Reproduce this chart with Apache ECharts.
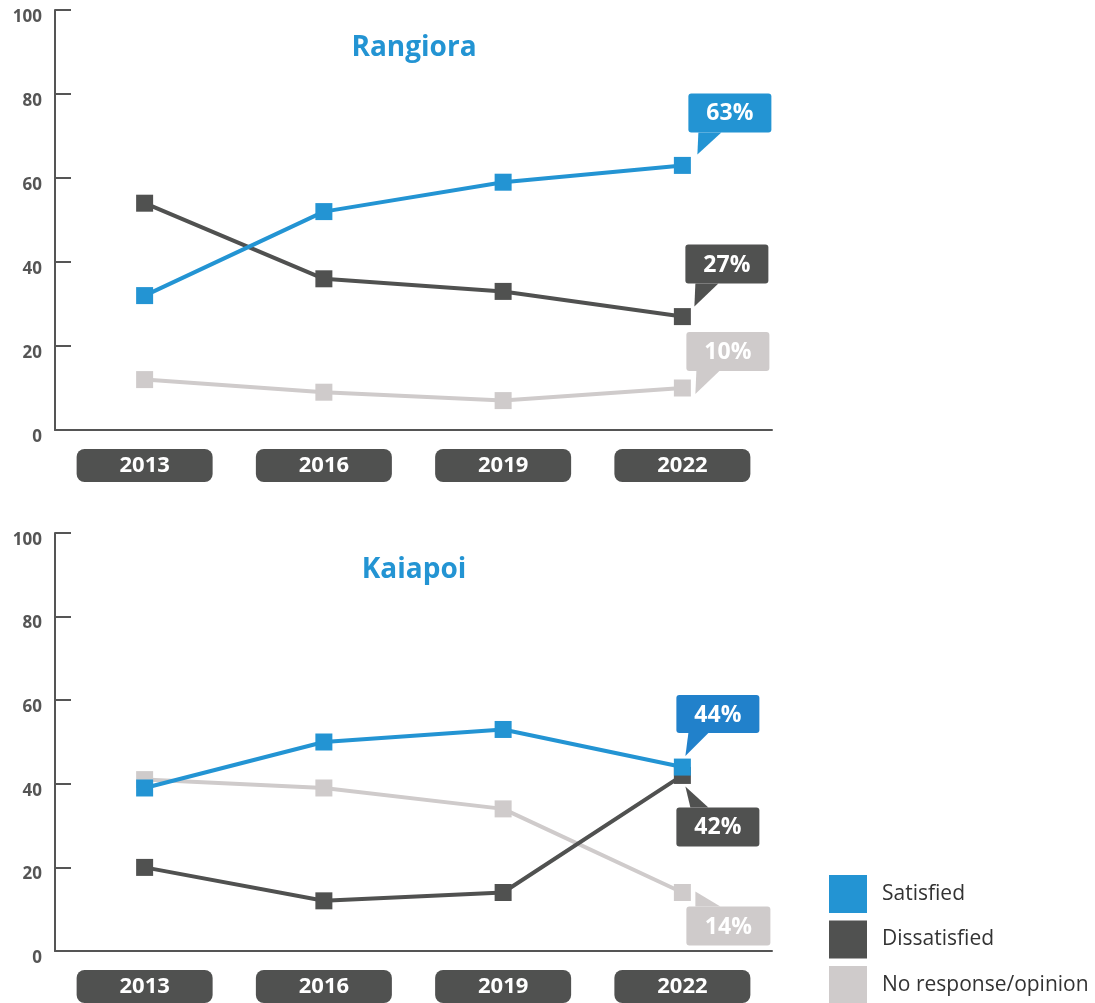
<!DOCTYPE html>
<html>
<head>
<meta charset="utf-8">
<script src="https://cdn.jsdelivr.net/npm/echarts@6/dist/echarts.min.js"></script>
<style>
  html, body { margin: 0; padding: 0; background: #fff; }
  #chart { width: 1095px; height: 1003px; }
</style>
</head>
<body>
<div id="chart"></div>
<script>
// Survey years
const years = ['2013', '2016', '2019', '2022'];

// Rangiora (%)
const rangioraSatisfied = [32, 52, 59, 63];
const rangioraDissatisfied = [54, 36, 33, 27];
const rangioraNoResponse = [12, 9, 7, 10];

// Kaiapoi (%)
const kaiapoiSatisfied = [39, 50, 53, 44];
const kaiapoiDissatisfied = [20, 12, 14, 42];
const kaiapoiNoResponse = [41, 39, 34, 14];

const yTicks = { min: 0, max: 100, interval: 20 };
const seriesNames = ['Satisfied', 'Dissatisfied', 'No response/opinion'];

const BLUE = '#2394d3';
const DARK = '#505150';
const LIGHT = '#cfcbcb';
const AXIS = '#555555';
const FONT = '"Open Sans", "Noto Sans", sans-serif';

// Callout shapes, relative to the point they annotate:
// box = [x0, y0, x1, y1], tail = triangle points
const calloutShapes = [
  // Rangiora: satisfied, dissatisfied, no response
  [
    { box: [6, -72, 89, -33], tail: [[16, -33], [39, -33], [15, -11]], fill: BLUE },
    { box: [3, -72, 86, -33], tail: [[13, -33], [36, -33], [12, -10]], fill: DARK },
    { box: [4, -56, 87, -17], tail: [[14, -17], [37, -17], [13, 6]], fill: LIGHT }
  ],
  // Kaiapoi: satisfied, dissatisfied, no response
  [
    { box: [-6, -72, 77, -34], tail: [[6, -34], [26, -34], [3, -11]], fill: '#2181cb' },
    { box: [-6, 32, 77, 71], tail: [[3, 11], [8, 32], [26, 32]], fill: DARK },
    { box: [4, 14, 88, 53], tail: [[13, -1], [13, 14], [38, 14]], fill: LIGHT }
  ]
];

function calloutSeries(gridIndex, lists) {
  const last = years.length - 1;
  const shapes = calloutShapes[gridIndex];
  return {
    type: 'custom',
    xAxisIndex: gridIndex,
    yAxisIndex: gridIndex,
    z: 10,
    silent: true,
    clip: false,
    data: lists.map(function (arr) { return [last, arr[last]]; }),
    renderItem: function (params, api) {
      const p = api.coord([api.value(0), api.value(1)]);
      const s = shapes[params.dataIndex];
      const b = s.box;
      return {
        type: 'group',
        children: [
          {
            type: 'polygon',
            shape: { points: s.tail.map(function (t) { return [p[0] + t[0], p[1] + t[1]]; }) },
            style: { fill: s.fill }
          },
          {
            type: 'rect',
            shape: { x: p[0] + b[0], y: p[1] + b[1], width: b[2] - b[0], height: b[3] - b[1], r: 3 },
            style: { fill: s.fill }
          },
          {
            type: 'text',
            style: {
              text: api.value(1) + '%',
              x: p[0] + (b[0] + b[2]) / 2,
              y: p[1] + (b[1] + b[3]) / 2 + 1,
              align: 'center',
              verticalAlign: 'middle',
              fill: '#ffffff',
              font: 'bold 23px ' + FONT
            }
          }
        ]
      };
    }
  };
}

function lineSeries(gridIndex, name, data, color, z) {
  return {
    type: 'line',
    name: name,
    xAxisIndex: gridIndex,
    yAxisIndex: gridIndex,
    data: data,
    z: z,
    symbol: 'rect',
    symbolSize: 17,
    showSymbol: true,
    lineStyle: { color: color, width: 4 },
    itemStyle: { color: color },
    emphasis: { disabled: true },
    animation: false
  };
}

function xAxisFor(gridIndex) {
  return {
    type: 'category',
    gridIndex: gridIndex,
    data: years,
    boundaryGap: true,
    axisLine: { lineStyle: { color: AXIS, width: 2 } },
    axisTick: { inside: true, length: 10, lineStyle: { color: AXIS, width: 2 } },
    axisLabel: {
      interval: 0,
      margin: 19,
      color: '#ffffff',
      fontFamily: FONT,
      fontWeight: 'bold',
      fontSize: 22,
      backgroundColor: DARK,
      borderRadius: 8,
      width: 136,
      height: 33,
      lineHeight: 33,
      align: 'center'
    }
  };
}

function yAxisFor(gridIndex) {
  return {
    type: 'value',
    gridIndex: gridIndex,
    min: yTicks.min,
    max: yTicks.max,
    interval: yTicks.interval,
    splitLine: { show: false },
    axisLine: { show: true, lineStyle: { color: AXIS, width: 2 } },
    axisTick: { show: true, inside: true, length: 16, lineStyle: { color: AXIS, width: 2 } },
    axisLabel: {
      margin: 13,
      color: AXIS,
      fontFamily: FONT,
      fontWeight: 'bold',
      fontSize: 17,
      verticalAlign: 'top',
      lineHeight: 14
    }
  };
}

const chart = echarts.init(document.getElementById('chart'), null, { renderer: 'canvas' });

chart.setOption({
  animation: false,
  backgroundColor: '#ffffff',
  title: [
    {
      text: 'Rangiora',
      left: 409, top: 29,
      textAlign: 'center',
      textStyle: { color: BLUE, fontFamily: FONT, fontWeight: 'bold', fontSize: 28 }
    },
    {
      text: 'Kaiapoi',
      left: 409, top: 551,
      textAlign: 'center',
      textStyle: { color: BLUE, fontFamily: FONT, fontWeight: 'bold', fontSize: 28 }
    }
  ],
  legend: {
    orient: 'vertical',
    left: 829,
    top: 875,
    height: 160,
    padding: 0,
    itemWidth: 38,
    itemHeight: 38,
    itemGap: 7.5,
    icon: 'rect',
    selectedMode: false,
    data: seriesNames,
    textStyle: { color: '#333333', fontFamily: FONT, fontSize: 21, padding: [0, 0, 0, 10] }
  },
  grid: [
    { left: 55, top: 10, width: 717, height: 420 },
    { left: 55, top: 533, width: 717, height: 419 }
  ],
  xAxis: [xAxisFor(0), xAxisFor(1)],
  yAxis: [yAxisFor(0), yAxisFor(1)],
  series: [
    lineSeries(0, seriesNames[2], rangioraNoResponse, LIGHT, 2),
    lineSeries(0, seriesNames[1], rangioraDissatisfied, DARK, 3),
    lineSeries(0, seriesNames[0], rangioraSatisfied, BLUE, 4),
    lineSeries(1, seriesNames[2], kaiapoiNoResponse, LIGHT, 2),
    lineSeries(1, seriesNames[1], kaiapoiDissatisfied, DARK, 3),
    lineSeries(1, seriesNames[0], kaiapoiSatisfied, BLUE, 4),
    calloutSeries(0, [rangioraSatisfied, rangioraDissatisfied, rangioraNoResponse]),
    calloutSeries(1, [kaiapoiSatisfied, kaiapoiDissatisfied, kaiapoiNoResponse])
  ]
});
</script>
</body>
</html>
